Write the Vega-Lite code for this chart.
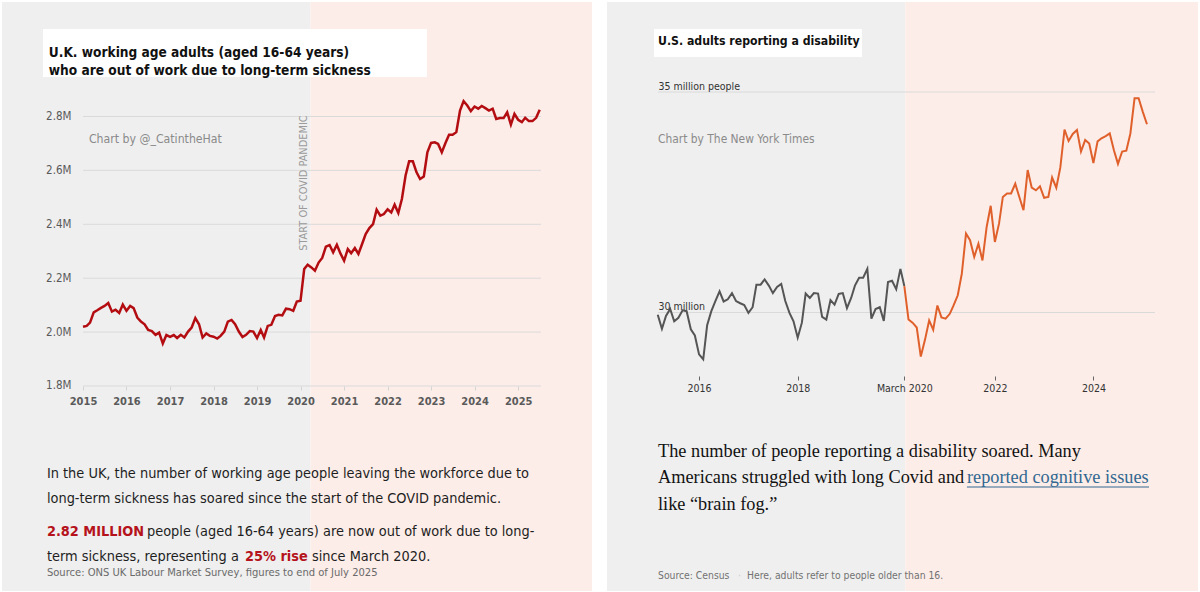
{
  "$schema": "https://vega.github.io/schema/vega-lite/v6.json",
  "background": "white",
  "padding": {"left": 2, "top": 2, "right": 2, "bottom": 1},
  "spacing": 15,
  "config": {
    "view": {"stroke": null},
    "axis": {"labelFont": "DejaVu Sans Condensed, Roboto, sans-serif", "grid": false, "domain": false},
    "text": {"font": "DejaVu Sans Condensed, Roboto, sans-serif", "align": "left", "baseline": "middle"}
  },
  "hconcat": [
    {
      "width": 590,
      "height": 589,
      "layer": [
        {
          "data": {"values": [{}]},
          "mark": {"type": "rect", "color": "#efefef"},
          "encoding": {
            "x": {"datum": {"year": 2013, "month": 2, "date": 20}, "type": "temporal", "axis": {"title": null},
              "scale": {"domain": [{"year": 2013, "month": 2, "date": 20}, {"year": 2026, "month": 9, "date": 13}], "nice": false}},
            "x2": {"datum": {"year": 2020, "month": 3, "date": 25}}
          }
        },
        {
          "data": {"values": [{}]},
          "mark": {"type": "rect", "color": "#fcede8"},
          "encoding": {
            "x": {"datum": {"year": 2020, "month": 3, "date": 25}, "type": "temporal", "axis": {"title": null},
              "scale": {"domain": [{"year": 2013, "month": 2, "date": 20}, {"year": 2026, "month": 9, "date": 13}], "nice": false}},
            "x2": {"datum": {"year": 2026, "month": 9, "date": 13}}
          }
        },
        {
          "data": {"values": [{}]},
          "mark": {"type": "rect", "color": "white"},
          "encoding": {
            "x": {"datum": {"year": 2014, "month": 1, "date": 30}, "type": "temporal", "axis": {"title": null},
              "scale": {"domain": [{"year": 2013, "month": 2, "date": 20}, {"year": 2026, "month": 9, "date": 13}], "nice": false}},
            "x2": {"datum": {"year": 2022, "month": 11, "date": 28}},
            "y": {"datum": 2946600, "type": "quantitative", "axis": {"title": null},
              "scale": {"domain": [1039300, 3224900], "nice": false, "zero": false}},
            "y2": {"datum": 3124700}
          }
        },
        {
          "data": {"values": [{"v": 1800000}, {"v": 2000000}, {"v": 2200000}, {"v": 2400000}, {"v": 2600000}, {"v": 2800000}]},
          "mark": {"type": "rule", "color": "#dadada", "strokeWidth": 1},
          "encoding": {
            "x": {"datum": {"year": 2015, "month": 1, "date": 1}, "type": "temporal", "axis": {"title": null},
              "scale": {"domain": [{"year": 2013, "month": 2, "date": 20}, {"year": 2026, "month": 9, "date": 13}], "nice": false}},
            "x2": {"datum": {"year": 2025, "month": 7, "date": 12}},
            "y": {"field": "v", "type": "quantitative", "axis": {"title": null},
              "scale": {"domain": [1039300, 3224900], "nice": false, "zero": false}}
          }
        },
        {
          "data": {"values": [
            {"month": "2015-01", "people": 2020000}, {"month": "2015-02", "people": 2023000}, {"month": "2015-03", "people": 2035000},
            {"month": "2015-04", "people": 2073000}, {"month": "2015-05", "people": 2081000}, {"month": "2015-06", "people": 2090000},
            {"month": "2015-07", "people": 2097000}, {"month": "2015-08", "people": 2108000}, {"month": "2015-09", "people": 2076000},
            {"month": "2015-10", "people": 2083000}, {"month": "2015-11", "people": 2071000}, {"month": "2015-12", "people": 2102000},
            {"month": "2016-01", "people": 2079000}, {"month": "2016-02", "people": 2097000}, {"month": "2016-03", "people": 2089000},
            {"month": "2016-04", "people": 2054000}, {"month": "2016-05", "people": 2039000}, {"month": "2016-06", "people": 2029000},
            {"month": "2016-07", "people": 2008000}, {"month": "2016-08", "people": 2004000}, {"month": "2016-09", "people": 1990000},
            {"month": "2016-10", "people": 1998000}, {"month": "2016-11", "people": 1958000}, {"month": "2016-12", "people": 1989000},
            {"month": "2017-01", "people": 1982000}, {"month": "2017-02", "people": 1989000}, {"month": "2017-03", "people": 1978000},
            {"month": "2017-04", "people": 1990000}, {"month": "2017-05", "people": 1980000}, {"month": "2017-06", "people": 2002000},
            {"month": "2017-07", "people": 2017000}, {"month": "2017-08", "people": 2052000}, {"month": "2017-09", "people": 2029000},
            {"month": "2017-10", "people": 1980000}, {"month": "2017-11", "people": 1995000}, {"month": "2017-12", "people": 1986000},
            {"month": "2018-01", "people": 1983000}, {"month": "2018-02", "people": 1976000}, {"month": "2018-03", "people": 1986000},
            {"month": "2018-04", "people": 2002000}, {"month": "2018-05", "people": 2039000}, {"month": "2018-06", "people": 2045000},
            {"month": "2018-07", "people": 2029000}, {"month": "2018-08", "people": 2002000}, {"month": "2018-09", "people": 1982000},
            {"month": "2018-10", "people": 1990000}, {"month": "2018-11", "people": 2004000}, {"month": "2018-12", "people": 2002000},
            {"month": "2019-01", "people": 1978000}, {"month": "2019-02", "people": 2008000}, {"month": "2019-03", "people": 1980000},
            {"month": "2019-04", "people": 2023000}, {"month": "2019-05", "people": 2027000}, {"month": "2019-06", "people": 2060000},
            {"month": "2019-07", "people": 2064000}, {"month": "2019-08", "people": 2062000}, {"month": "2019-09", "people": 2087000},
            {"month": "2019-10", "people": 2085000}, {"month": "2019-11", "people": 2079000}, {"month": "2019-12", "people": 2113000},
            {"month": "2020-01", "people": 2116000}, {"month": "2020-02", "people": 2234000}, {"month": "2020-03", "people": 2250000},
            {"month": "2020-04", "people": 2240000}, {"month": "2020-05", "people": 2228000}, {"month": "2020-06", "people": 2258000},
            {"month": "2020-07", "people": 2275000}, {"month": "2020-08", "people": 2317000}, {"month": "2020-09", "people": 2323000},
            {"month": "2020-10", "people": 2296000}, {"month": "2020-11", "people": 2324000}, {"month": "2020-12", "people": 2292000},
            {"month": "2021-01", "people": 2265000}, {"month": "2021-02", "people": 2308000}, {"month": "2021-03", "people": 2293000},
            {"month": "2021-04", "people": 2312000}, {"month": "2021-05", "people": 2290000}, {"month": "2021-06", "people": 2327000},
            {"month": "2021-07", "people": 2364000}, {"month": "2021-08", "people": 2386000}, {"month": "2021-09", "people": 2401000},
            {"month": "2021-10", "people": 2454000}, {"month": "2021-11", "people": 2432000}, {"month": "2021-12", "people": 2438000},
            {"month": "2022-01", "people": 2456000}, {"month": "2022-02", "people": 2444000}, {"month": "2022-03", "people": 2473000},
            {"month": "2022-04", "people": 2442000}, {"month": "2022-05", "people": 2494000}, {"month": "2022-06", "people": 2581000},
            {"month": "2022-07", "people": 2634000}, {"month": "2022-08", "people": 2634000}, {"month": "2022-09", "people": 2593000},
            {"month": "2022-10", "people": 2568000}, {"month": "2022-11", "people": 2577000}, {"month": "2022-12", "people": 2667000},
            {"month": "2023-01", "people": 2702000}, {"month": "2023-02", "people": 2704000}, {"month": "2023-03", "people": 2698000},
            {"month": "2023-04", "people": 2667000}, {"month": "2023-05", "people": 2701000}, {"month": "2023-06", "people": 2732000},
            {"month": "2023-07", "people": 2732000}, {"month": "2023-08", "people": 2742000}, {"month": "2023-09", "people": 2822000},
            {"month": "2023-10", "people": 2857000}, {"month": "2023-11", "people": 2841000}, {"month": "2023-12", "people": 2820000},
            {"month": "2024-01", "people": 2837000}, {"month": "2024-02", "people": 2829000}, {"month": "2024-03", "people": 2839000},
            {"month": "2024-04", "people": 2831000}, {"month": "2024-05", "people": 2822000}, {"month": "2024-06", "people": 2829000},
            {"month": "2024-07", "people": 2791000}, {"month": "2024-08", "people": 2794000}, {"month": "2024-09", "people": 2794000},
            {"month": "2024-10", "people": 2816000}, {"month": "2024-11", "people": 2770000}, {"month": "2024-12", "people": 2810000},
            {"month": "2025-01", "people": 2788000}, {"month": "2025-02", "people": 2779000}, {"month": "2025-03", "people": 2795000},
            {"month": "2025-04", "people": 2783000}, {"month": "2025-05", "people": 2783000}, {"month": "2025-06", "people": 2795000},
            {"month": "2025-07", "people": 2825000}
          ]},
          "mark": {"type": "line", "color": "#b30d12", "strokeWidth": 2.5},
          "encoding": {
            "x": {"field": "month", "type": "temporal",
              "scale": {"domain": [{"year": 2013, "month": 2, "date": 20}, {"year": 2026, "month": 9, "date": 13}], "nice": false},
              "axis": {
                "values": [{"year": 2015}, {"year": 2016}, {"year": 2017}, {"year": 2018}, {"year": 2019}, {"year": 2020},
                  {"year": 2021}, {"year": 2022}, {"year": 2023}, {"year": 2024}, {"year": 2025}],
                "format": "%Y", "title": null, "zindex": 1, "offset": -205, "ticks": true, "tickSize": 4, "tickColor": "#d4d4d4",
                "labelPadding": 5, "labelFontSize": 11, "labelFontWeight": "bold", "labelColor": "#5a5a5a"
              }},
            "y": {"field": "people", "type": "quantitative",
              "scale": {"domain": [1039300, 3224900], "nice": false, "zero": false},
              "axis": {
                "values": [1800000, 2000000, 2200000, 2400000, 2600000, 2800000],
                "format": ".2s", "title": null, "zindex": 1, "offset": -69, "ticks": false, "tickSize": 0, "labelPadding": 0,
                "labelFontSize": 11.5, "labelColor": "#5a5a5a"
              }}
          }
        },
        {
          "data": {"values": [{}]},
          "mark": {"type": "text", "text": ["U.K. working age adults (aged 16-64 years)", "who are out of work due to long-term sickness"],
            "fontSize": 13.6, "fontWeight": "bold", "color": "#111111", "lineHeight": 18},
          "encoding": {
            "x": {"datum": {"year": 2014, "month": 3, "date": 20}, "type": "temporal", "axis": {"title": null},
              "scale": {"domain": [{"year": 2013, "month": 2, "date": 20}, {"year": 2026, "month": 9, "date": 13}], "nice": false}},
            "y": {"datum": 3035600, "type": "quantitative", "axis": {"title": null},
              "scale": {"domain": [1039300, 3224900], "nice": false, "zero": false}}
          }
        },
        {
          "data": {"values": [{}]},
          "mark": {"type": "text", "text": "Chart by @_CatintheHat", "fontSize": 12.2, "color": "#8a8a8a"},
          "encoding": {
            "x": {"datum": {"year": 2015, "month": 2, "date": 20}, "type": "temporal", "axis": {"title": null},
              "scale": {"domain": [{"year": 2013, "month": 2, "date": 20}, {"year": 2026, "month": 9, "date": 13}], "nice": false}},
            "y": {"datum": 2716500, "type": "quantitative", "axis": {"title": null},
              "scale": {"domain": [1039300, 3224900], "nice": false, "zero": false}}
          }
        },
        {
          "data": {"values": [{}]},
          "mark": {"type": "text", "text": "START OF COVID PANDEMIC", "fontSize": 10.9, "color": "#9a9a9a", "angle": 270, "align": "center"},
          "encoding": {
            "x": {"datum": {"year": 2020, "month": 1, "date": 30}, "type": "temporal", "axis": {"title": null},
              "scale": {"domain": [{"year": 2013, "month": 2, "date": 20}, {"year": 2026, "month": 9, "date": 13}], "nice": false}},
            "y": {"datum": 2553000, "type": "quantitative", "axis": {"title": null},
              "scale": {"domain": [1039300, 3224900], "nice": false, "zero": false}}
          }
        },
        {
          "data": {"values": [{}]},
          "mark": {"type": "text", "text": "In the UK, the number of working age people leaving the workforce due to", "fontSize": 14.4, "color": "#1e1e1e"},
          "encoding": {
            "x": {"datum": {"year": 2014, "month": 3, "date": 4}, "type": "temporal", "axis": {"title": null},
              "scale": {"domain": [{"year": 2013, "month": 2, "date": 20}, {"year": 2026, "month": 9, "date": 13}], "nice": false}},
            "y": {"datum": 1473500, "type": "quantitative", "axis": {"title": null},
              "scale": {"domain": [1039300, 3224900], "nice": false, "zero": false}}
          }
        },
        {
          "data": {"values": [{}]},
          "mark": {"type": "text", "text": "long-term sickness has soared since the start of the COVID pandemic.", "fontSize": 14.4, "color": "#1e1e1e"},
          "encoding": {
            "x": {"datum": {"year": 2014, "month": 3, "date": 4}, "type": "temporal", "axis": {"title": null},
              "scale": {"domain": [{"year": 2013, "month": 2, "date": 20}, {"year": 2026, "month": 9, "date": 13}], "nice": false}},
            "y": {"datum": 1380700, "type": "quantitative", "axis": {"title": null},
              "scale": {"domain": [1039300, 3224900], "nice": false, "zero": false}}
          }
        },
        {
          "data": {"values": [{}]},
          "mark": {"type": "text", "text": "2.82 MILLION", "fontSize": 14.4, "fontWeight": "bold", "color": "#b5121b"},
          "encoding": {
            "x": {"datum": {"year": 2014, "month": 3, "date": 4}, "type": "temporal", "axis": {"title": null},
              "scale": {"domain": [{"year": 2013, "month": 2, "date": 20}, {"year": 2026, "month": 9, "date": 13}], "nice": false}},
            "y": {"datum": 1258300, "type": "quantitative", "axis": {"title": null},
              "scale": {"domain": [1039300, 3224900], "nice": false, "zero": false}}
          }
        },
        {
          "data": {"values": [{}]},
          "mark": {"type": "text", "text": "people (aged 16-64 years) are now out of work due to long-", "fontSize": 14.4, "color": "#1e1e1e"},
          "encoding": {
            "x": {"datum": {"year": 2016, "month": 6, "date": 21}, "type": "temporal", "axis": {"title": null},
              "scale": {"domain": [{"year": 2013, "month": 2, "date": 20}, {"year": 2026, "month": 9, "date": 13}], "nice": false}},
            "y": {"datum": 1258300, "type": "quantitative", "axis": {"title": null},
              "scale": {"domain": [1039300, 3224900], "nice": false, "zero": false}}
          }
        },
        {
          "data": {"values": [{}]},
          "mark": {"type": "text", "text": "term sickness, representing a", "fontSize": 14.4, "color": "#1e1e1e"},
          "encoding": {
            "x": {"datum": {"year": 2014, "month": 3, "date": 4}, "type": "temporal", "axis": {"title": null},
              "scale": {"domain": [{"year": 2013, "month": 2, "date": 20}, {"year": 2026, "month": 9, "date": 13}], "nice": false}},
            "y": {"datum": 1165500, "type": "quantitative", "axis": {"title": null},
              "scale": {"domain": [1039300, 3224900], "nice": false, "zero": false}}
          }
        },
        {
          "data": {"values": [{}]},
          "mark": {"type": "text", "text": "25% rise", "fontSize": 14.4, "fontWeight": "bold", "color": "#b5121b"},
          "encoding": {
            "x": {"datum": {"year": 2018, "month": 9, "date": 21}, "type": "temporal", "axis": {"title": null},
              "scale": {"domain": [{"year": 2013, "month": 2, "date": 20}, {"year": 2026, "month": 9, "date": 13}], "nice": false}},
            "y": {"datum": 1165500, "type": "quantitative", "axis": {"title": null},
              "scale": {"domain": [1039300, 3224900], "nice": false, "zero": false}}
          }
        },
        {
          "data": {"values": [{}]},
          "mark": {"type": "text", "text": "since March 2020.", "fontSize": 14.4, "color": "#1e1e1e"},
          "encoding": {
            "x": {"datum": {"year": 2020, "month": 4, "date": 6}, "type": "temporal", "axis": {"title": null},
              "scale": {"domain": [{"year": 2013, "month": 2, "date": 20}, {"year": 2026, "month": 9, "date": 13}], "nice": false}},
            "y": {"datum": 1165500, "type": "quantitative", "axis": {"title": null},
              "scale": {"domain": [1039300, 3224900], "nice": false, "zero": false}}
          }
        },
        {
          "data": {"values": [{}]},
          "mark": {"type": "text", "text": "Source: ONS UK Labour Market Survey, figures to end of July 2025", "fontSize": 11.1, "color": "#6a6a6a"},
          "encoding": {
            "x": {"datum": {"year": 2014, "month": 3, "date": 4}, "type": "temporal", "axis": {"title": null},
              "scale": {"domain": [{"year": 2013, "month": 2, "date": 20}, {"year": 2026, "month": 9, "date": 13}], "nice": false}},
            "y": {"datum": 1106100, "type": "quantitative", "axis": {"title": null},
              "scale": {"domain": [1039300, 3224900], "nice": false, "zero": false}}
          }
        }
      ]
    },
    {
      "width": 591,
      "height": 589,
      "layer": [
        {
          "data": {"values": [{}]},
          "mark": {"type": "rect", "color": "#efefef"},
          "encoding": {
            "x": {"datum": {"year": 2014, "month": 2, "date": 18}, "type": "temporal", "axis": {"title": null},
              "scale": {"domain": [{"year": 2014, "month": 2, "date": 18}, {"year": 2026, "month": 2, "date": 14}], "nice": false}},
            "x2": {"datum": {"year": 2020, "month": 3, "date": 8}}
          }
        },
        {
          "data": {"values": [{}]},
          "mark": {"type": "rect", "color": "#fcede8"},
          "encoding": {
            "x": {"datum": {"year": 2020, "month": 3, "date": 8}, "type": "temporal", "axis": {"title": null},
              "scale": {"domain": [{"year": 2014, "month": 2, "date": 18}, {"year": 2026, "month": 2, "date": 14}], "nice": false}},
            "x2": {"datum": {"year": 2026, "month": 2, "date": 14}}
          }
        },
        {
          "data": {"values": [{}]},
          "mark": {"type": "rect", "color": "white"},
          "encoding": {
            "x": {"datum": {"year": 2015, "month": 2, "date": 1}, "type": "temporal", "axis": {"title": null},
              "scale": {"domain": [{"year": 2014, "month": 2, "date": 18}, {"year": 2026, "month": 2, "date": 14}], "nice": false}},
            "x2": {"datum": {"year": 2019, "month": 4, "date": 22}},
            "y": {"datum": 35794000, "type": "quantitative", "axis": {"title": null},
              "scale": {"domain": [23685000, 37041000], "nice": false, "zero": false}},
            "y2": {"datum": 36429000}
          }
        },
        {
          "data": {"values": [{"v": 30000000}, {"v": 35000000}]},
          "mark": {"type": "rule", "color": "#dadada", "strokeWidth": 1},
          "encoding": {
            "x": {"datum": {"year": 2015, "month": 3, "date": 2}, "type": "temporal", "axis": {"title": null},
              "scale": {"domain": [{"year": 2014, "month": 2, "date": 18}, {"year": 2026, "month": 2, "date": 14}], "nice": false}},
            "x2": {"datum": {"year": 2025, "month": 4, "date": 1}},
            "y": {"field": "v", "type": "quantitative", "axis": {"title": null},
              "scale": {"domain": [23685000, 37041000], "nice": false, "zero": false}}
          }
        },
        {
          "data": {"values": [
            {"month": "2015-03", "adults": 29950000, "period": "before"}, {"month": "2015-04", "adults": 29630000, "period": "before"},
            {"month": "2015-05", "adults": 29920000, "period": "before"}, {"month": "2015-06", "adults": 30080000, "period": "before"},
            {"month": "2015-07", "adults": 29800000, "period": "before"}, {"month": "2015-08", "adults": 29880000, "period": "before"},
            {"month": "2015-09", "adults": 30050000, "period": "before"}, {"month": "2015-10", "adults": 30030000, "period": "before"},
            {"month": "2015-11", "adults": 29620000, "period": "before"}, {"month": "2015-12", "adults": 29480000, "period": "before"},
            {"month": "2016-01", "adults": 29050000, "period": "before"}, {"month": "2016-02", "adults": 28940000, "period": "before"},
            {"month": "2016-03", "adults": 29710000, "period": "before"}, {"month": "2016-04", "adults": 30030000, "period": "before"},
            {"month": "2016-05", "adults": 30260000, "period": "before"}, {"month": "2016-06", "adults": 30480000, "period": "before"},
            {"month": "2016-07", "adults": 30250000, "period": "before"}, {"month": "2016-08", "adults": 30300000, "period": "before"},
            {"month": "2016-09", "adults": 30440000, "period": "before"}, {"month": "2016-10", "adults": 30260000, "period": "before"},
            {"month": "2016-11", "adults": 30210000, "period": "before"}, {"month": "2016-12", "adults": 30170000, "period": "before"},
            {"month": "2017-01", "adults": 29990000, "period": "before"}, {"month": "2017-02", "adults": 30120000, "period": "before"},
            {"month": "2017-03", "adults": 30630000, "period": "before"}, {"month": "2017-04", "adults": 30630000, "period": "before"},
            {"month": "2017-05", "adults": 30750000, "period": "before"}, {"month": "2017-06", "adults": 30610000, "period": "before"},
            {"month": "2017-07", "adults": 30440000, "period": "before"}, {"month": "2017-08", "adults": 30580000, "period": "before"},
            {"month": "2017-09", "adults": 30650000, "period": "before"}, {"month": "2017-10", "adults": 30260000, "period": "before"},
            {"month": "2017-11", "adults": 29990000, "period": "before"}, {"month": "2017-12", "adults": 29800000, "period": "before"},
            {"month": "2018-01", "adults": 29430000, "period": "before"}, {"month": "2018-02", "adults": 29770000, "period": "before"},
            {"month": "2018-03", "adults": 30430000, "period": "before"}, {"month": "2018-04", "adults": 30330000, "period": "before"},
            {"month": "2018-05", "adults": 30440000, "period": "before"}, {"month": "2018-06", "adults": 30430000, "period": "before"},
            {"month": "2018-07", "adults": 29900000, "period": "before"}, {"month": "2018-08", "adults": 29840000, "period": "before"},
            {"month": "2018-09", "adults": 30280000, "period": "before"}, {"month": "2018-10", "adults": 30180000, "period": "before"},
            {"month": "2018-11", "adults": 30420000, "period": "before"}, {"month": "2018-12", "adults": 30440000, "period": "before"},
            {"month": "2019-01", "adults": 30100000, "period": "before"}, {"month": "2019-02", "adults": 30330000, "period": "before"},
            {"month": "2019-03", "adults": 30610000, "period": "before"}, {"month": "2019-04", "adults": 30790000, "period": "before"},
            {"month": "2019-05", "adults": 30790000, "period": "before"}, {"month": "2019-06", "adults": 30990000, "period": "before"},
            {"month": "2019-07", "adults": 29860000, "period": "before"}, {"month": "2019-08", "adults": 30080000, "period": "before"},
            {"month": "2019-09", "adults": 30120000, "period": "before"}, {"month": "2019-10", "adults": 29810000, "period": "before"},
            {"month": "2019-11", "adults": 30690000, "period": "before"}, {"month": "2019-12", "adults": 30720000, "period": "before"},
            {"month": "2020-01", "adults": 30530000, "period": "before"}, {"month": "2020-02", "adults": 30990000, "period": "before"},
            {"month": "2020-03", "adults": 30600000, "period": "before"},
            {"month": "2020-03", "adults": 30600000, "period": "after"}, {"month": "2020-04", "adults": 29840000, "period": "after"},
            {"month": "2020-05", "adults": 29770000, "period": "after"}, {"month": "2020-06", "adults": 29660000, "period": "after"},
            {"month": "2020-07", "adults": 29000000, "period": "after"}, {"month": "2020-08", "adults": 29380000, "period": "after"},
            {"month": "2020-09", "adults": 29820000, "period": "after"}, {"month": "2020-10", "adults": 29610000, "period": "after"},
            {"month": "2020-11", "adults": 30160000, "period": "after"}, {"month": "2020-12", "adults": 29890000, "period": "after"},
            {"month": "2021-01", "adults": 29860000, "period": "after"}, {"month": "2021-02", "adults": 29970000, "period": "after"},
            {"month": "2021-03", "adults": 30160000, "period": "after"}, {"month": "2021-04", "adults": 30390000, "period": "after"},
            {"month": "2021-05", "adults": 30880000, "period": "after"}, {"month": "2021-06", "adults": 31790000, "period": "after"},
            {"month": "2021-07", "adults": 31640000, "period": "after"}, {"month": "2021-08", "adults": 31260000, "period": "after"},
            {"month": "2021-09", "adults": 31560000, "period": "after"}, {"month": "2021-10", "adults": 31180000, "period": "after"},
            {"month": "2021-11", "adults": 31940000, "period": "after"}, {"month": "2021-12", "adults": 32420000, "period": "after"},
            {"month": "2022-01", "adults": 31600000, "period": "after"}, {"month": "2022-02", "adults": 32020000, "period": "after"},
            {"month": "2022-03", "adults": 32620000, "period": "after"}, {"month": "2022-04", "adults": 32700000, "period": "after"},
            {"month": "2022-05", "adults": 32700000, "period": "after"}, {"month": "2022-06", "adults": 32920000, "period": "after"},
            {"month": "2022-07", "adults": 32620000, "period": "after"}, {"month": "2022-08", "adults": 32320000, "period": "after"},
            {"month": "2022-09", "adults": 33230000, "period": "after"}, {"month": "2022-10", "adults": 32830000, "period": "after"},
            {"month": "2022-11", "adults": 32770000, "period": "after"}, {"month": "2022-12", "adults": 32860000, "period": "after"},
            {"month": "2023-01", "adults": 32600000, "period": "after"}, {"month": "2023-02", "adults": 32620000, "period": "after"},
            {"month": "2023-03", "adults": 33060000, "period": "after"}, {"month": "2023-04", "adults": 32830000, "period": "after"},
            {"month": "2023-05", "adults": 33290000, "period": "after"}, {"month": "2023-06", "adults": 34150000, "period": "after"},
            {"month": "2023-07", "adults": 33890000, "period": "after"}, {"month": "2023-08", "adults": 34050000, "period": "after"},
            {"month": "2023-09", "adults": 34140000, "period": "after"}, {"month": "2023-10", "adults": 33650000, "period": "after"},
            {"month": "2023-11", "adults": 33910000, "period": "after"}, {"month": "2023-12", "adults": 33830000, "period": "after"},
            {"month": "2024-01", "adults": 33390000, "period": "after"}, {"month": "2024-02", "adults": 33880000, "period": "after"},
            {"month": "2024-03", "adults": 33950000, "period": "after"}, {"month": "2024-04", "adults": 34000000, "period": "after"},
            {"month": "2024-05", "adults": 34060000, "period": "after"}, {"month": "2024-06", "adults": 33680000, "period": "after"},
            {"month": "2024-07", "adults": 33370000, "period": "after"}, {"month": "2024-08", "adults": 33650000, "period": "after"},
            {"month": "2024-09", "adults": 33670000, "period": "after"}, {"month": "2024-10", "adults": 34060000, "period": "after"},
            {"month": "2024-11", "adults": 34860000, "period": "after"}, {"month": "2024-12", "adults": 34860000, "period": "after"},
            {"month": "2025-01", "adults": 34550000, "period": "after"}, {"month": "2025-02", "adults": 34270000, "period": "after"}
          ]},
          "mark": {"type": "line", "strokeWidth": 2},
          "encoding": {
            "x": {"field": "month", "type": "temporal",
              "scale": {"domain": [{"year": 2014, "month": 2, "date": 18}, {"year": 2026, "month": 2, "date": 14}], "nice": false},
              "axis": {
                "values": [{"year": 2016}, {"year": 2018}, {"year": 2020, "month": 3}, {"year": 2022}, {"year": 2024}],
                "labelExpr": "month(datum.value) == 2 ? 'March 2020' : timeFormat(datum.value, '%Y')",
                "title": null, "zindex": 1, "offset": -215, "ticks": true, "tickSize": 4, "tickColor": "#666666",
                "labelPadding": 3, "labelFontSize": 10.5, "labelColor": "#333333"
              }},
            "y": {"field": "adults", "type": "quantitative",
              "scale": {"domain": [23685000, 37041000], "nice": false, "zero": false},
              "axis": {
                "values": [30000000, 35000000],
                "labelExpr": "datum.value >= 35000000 ? '35 million people' : '30 million'",
                "title": null, "zindex": 1, "offset": -51, "ticks": false, "tickSize": 0, "labelPadding": 0,
                "labelAlign": "left", "labelBaseline": "alphabetic", "labelOffset": -3,
                "labelFontSize": 10.5, "labelColor": "#333333"
              }},
            "color": {"field": "period", "type": "nominal", "legend": null,
              "scale": {"domain": ["before", "after"], "range": ["#555555", "#e0602c"]}}
          }
        },
        {
          "data": {"values": [{}]},
          "mark": {"type": "text", "text": "U.S. adults reporting a disability", "fontSize": 12.2, "fontWeight": "bold", "color": "#111111"},
          "encoding": {
            "x": {"datum": {"year": 2015, "month": 3, "date": 3}, "type": "temporal", "axis": {"title": null},
              "scale": {"domain": [{"year": 2014, "month": 2, "date": 18}, {"year": 2026, "month": 2, "date": 14}], "nice": false}},
            "y": {"datum": 36156000, "type": "quantitative", "axis": {"title": null},
              "scale": {"domain": [23685000, 37041000], "nice": false, "zero": false}}
          }
        },
        {
          "data": {"values": [{}]},
          "mark": {"type": "text", "text": "Chart by The New York Times", "fontSize": 11.9, "color": "#8a8a8a"},
          "encoding": {
            "x": {"datum": {"year": 2015, "month": 3, "date": 3}, "type": "temporal", "axis": {"title": null},
              "scale": {"domain": [{"year": 2014, "month": 2, "date": 18}, {"year": 2026, "month": 2, "date": 14}], "nice": false}},
            "y": {"datum": 33934000, "type": "quantitative", "axis": {"title": null},
              "scale": {"domain": [23685000, 37041000], "nice": false, "zero": false}}
          }
        },
        {
          "data": {"values": [{}]},
          "mark": {"type": "text", "text": "The number of people reporting a disability soared. Many", "font": "Liberation Serif", "fontSize": 18.3, "color": "#121212"},
          "encoding": {
            "x": {"datum": {"year": 2015, "month": 3, "date": 3}, "type": "temporal", "axis": {"title": null},
              "scale": {"domain": [{"year": 2014, "month": 2, "date": 18}, {"year": 2026, "month": 2, "date": 14}], "nice": false}},
            "y": {"datum": 26837000, "type": "quantitative", "axis": {"title": null},
              "scale": {"domain": [23685000, 37041000], "nice": false, "zero": false}}
          }
        },
        {
          "data": {"values": [{}]},
          "mark": {"type": "text", "text": "Americans struggled with long Covid and", "font": "Liberation Serif", "fontSize": 18.3, "color": "#121212"},
          "encoding": {
            "x": {"datum": {"year": 2015, "month": 3, "date": 3}, "type": "temporal", "axis": {"title": null},
              "scale": {"domain": [{"year": 2014, "month": 2, "date": 18}, {"year": 2026, "month": 2, "date": 14}], "nice": false}},
            "y": {"datum": 26247000, "type": "quantitative", "axis": {"title": null},
              "scale": {"domain": [23685000, 37041000], "nice": false, "zero": false}}
          }
        },
        {
          "data": {"values": [{}]},
          "mark": {"type": "text", "text": "reported cognitive issues", "font": "Liberation Serif", "fontSize": 18.3, "color": "#326891"},
          "encoding": {
            "x": {"datum": {"year": 2021, "month": 6, "date": 8}, "type": "temporal", "axis": {"title": null},
              "scale": {"domain": [{"year": 2014, "month": 2, "date": 18}, {"year": 2026, "month": 2, "date": 14}], "nice": false}},
            "y": {"datum": 26247000, "type": "quantitative", "axis": {"title": null},
              "scale": {"domain": [23685000, 37041000], "nice": false, "zero": false}}
          }
        },
        {
          "data": {"values": [{}]},
          "mark": {"type": "rule", "color": "#326891", "strokeWidth": 1},
          "encoding": {
            "x": {"datum": {"year": 2021, "month": 6, "date": 8}, "type": "temporal", "axis": {"title": null},
              "scale": {"domain": [{"year": 2014, "month": 2, "date": 18}, {"year": 2026, "month": 2, "date": 14}], "nice": false}},
            "x2": {"datum": {"year": 2025, "month": 2, "date": 16}},
            "y": {"datum": 26043000, "type": "quantitative", "axis": {"title": null},
              "scale": {"domain": [23685000, 37041000], "nice": false, "zero": false}}
          }
        },
        {
          "data": {"values": [{}]},
          "mark": {"type": "text", "text": "like “brain fog.”", "font": "Liberation Serif", "fontSize": 18.3, "color": "#121212"},
          "encoding": {
            "x": {"datum": {"year": 2015, "month": 3, "date": 3}, "type": "temporal", "axis": {"title": null},
              "scale": {"domain": [{"year": 2014, "month": 2, "date": 18}, {"year": 2026, "month": 2, "date": 14}], "nice": false}},
            "y": {"datum": 25635000, "type": "quantitative", "axis": {"title": null},
              "scale": {"domain": [23685000, 37041000], "nice": false, "zero": false}}
          }
        },
        {
          "data": {"values": [{}]},
          "mark": {"type": "text", "text": "Source: Census", "fontSize": 10.3, "color": "#727272"},
          "encoding": {
            "x": {"datum": {"year": 2015, "month": 3, "date": 3}, "type": "temporal", "axis": {"title": null},
              "scale": {"domain": [{"year": 2014, "month": 2, "date": 18}, {"year": 2026, "month": 2, "date": 14}], "nice": false}},
            "y": {"datum": 24025000, "type": "quantitative", "axis": {"title": null},
              "scale": {"domain": [23685000, 37041000], "nice": false, "zero": false}}
          }
        },
        {
          "data": {"values": [{}]},
          "mark": {"type": "text", "text": "·", "fontSize": 11, "color": "#cccccc"},
          "encoding": {
            "x": {"datum": {"year": 2016, "month": 10, "date": 16}, "type": "temporal", "axis": {"title": null},
              "scale": {"domain": [{"year": 2014, "month": 2, "date": 18}, {"year": 2026, "month": 2, "date": 14}], "nice": false}},
            "y": {"datum": 24025000, "type": "quantitative", "axis": {"title": null},
              "scale": {"domain": [23685000, 37041000], "nice": false, "zero": false}}
          }
        },
        {
          "data": {"values": [{}]},
          "mark": {"type": "text", "text": "Here, adults refer to people older than 16.", "fontSize": 10.3, "color": "#727272"},
          "encoding": {
            "x": {"datum": {"year": 2016, "month": 12, "date": 22}, "type": "temporal", "axis": {"title": null},
              "scale": {"domain": [{"year": 2014, "month": 2, "date": 18}, {"year": 2026, "month": 2, "date": 14}], "nice": false}},
            "y": {"datum": 24025000, "type": "quantitative", "axis": {"title": null},
              "scale": {"domain": [23685000, 37041000], "nice": false, "zero": false}}
          }
        }
      ]
    }
  ]
}
